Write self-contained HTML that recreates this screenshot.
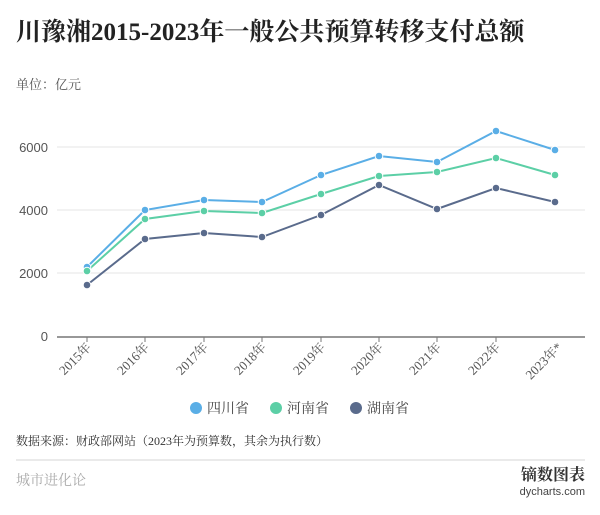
<!DOCTYPE html>
<html><head><meta charset="utf-8"><style>
body{margin:0;width:600px;height:510px;background:#fff;overflow:hidden;font-family:"Liberation Serif","Noto Serif CJK SC",serif;}
</style></head><body>
<svg width="600" height="510" xmlns="http://www.w3.org/2000/svg">
<text x="16" y="40" font-size="25" font-weight="bold" fill="#222" font-family="Liberation Serif, Noto Serif CJK SC, serif">川豫湘2015-2023年一般公共预算转移支付总额</text>
<text x="16" y="89" font-size="13" fill="#555" font-family="Liberation Serif, Noto Serif CJK SC, serif">单位：亿元</text>
<g stroke="#e6e6e6" stroke-width="1">
<line x1="57" y1="273" x2="585" y2="273"/><line x1="57" y1="210" x2="585" y2="210"/><line x1="57" y1="147" x2="585" y2="147"/>
</g>
<line x1="57" y1="337" x2="585" y2="337" stroke="#777" stroke-width="1.5"/>
<g font-size="13" fill="#555" text-anchor="end" font-family="Liberation Sans, sans-serif">
<text x="48" y="341">0</text><text x="48" y="278">2000</text><text x="48" y="215">4000</text><text x="48" y="152">6000</text>
</g>
<g stroke="#777" stroke-width="1">
<line x1="87" y1="337" x2="87" y2="342"/><line x1="145" y1="337" x2="145" y2="342"/><line x1="204" y1="337" x2="204" y2="342"/><line x1="262" y1="337" x2="262" y2="342"/><line x1="321" y1="337" x2="321" y2="342"/><line x1="379" y1="337" x2="379" y2="342"/><line x1="437" y1="337" x2="437" y2="342"/><line x1="496" y1="337" x2="496" y2="342"/>
</g>
<g font-size="13" fill="#555" text-anchor="end" font-family="Liberation Serif, Noto Serif CJK SC, serif">
<text transform="translate(92,348) rotate(-45)">2015年</text>
<text transform="translate(150,348) rotate(-45)">2016年</text>
<text transform="translate(209,348) rotate(-45)">2017年</text>
<text transform="translate(267,348) rotate(-45)">2018年</text>
<text transform="translate(326,348) rotate(-45)">2019年</text>
<text transform="translate(384,348) rotate(-45)">2020年</text>
<text transform="translate(442,348) rotate(-45)">2021年</text>
<text transform="translate(501,348) rotate(-45)">2022年</text>
<text transform="translate(563,348) rotate(-45)">2023年*</text>
</g>
<g fill="none" stroke-width="2">
<polyline stroke="#5aaee6" points="87,267 145,210 204,200 262,202 321,175 379,156 437,162 496,131 555,150"/>
<polyline stroke="#5ccfa6" points="87,271 145,219 204,211 262,213 321,194 379,176 437,172 496,158 555,175"/>
<polyline stroke="#5a6b8c" points="87,285 145,239 204,233 262,237 321,215 379,185 437,209 496,188 555,202"/>
</g>
<g stroke="#fff" stroke-width="1">
<g fill="#5aaee6"><circle cx="87" cy="267" r="3.8"/><circle cx="145" cy="210" r="3.8"/><circle cx="204" cy="200" r="3.8"/><circle cx="262" cy="202" r="3.8"/><circle cx="321" cy="175" r="3.8"/><circle cx="379" cy="156" r="3.8"/><circle cx="437" cy="162" r="3.8"/><circle cx="496" cy="131" r="3.8"/><circle cx="555" cy="150" r="3.8"/></g>
<g fill="#5ccfa6"><circle cx="87" cy="271" r="3.8"/><circle cx="145" cy="219" r="3.8"/><circle cx="204" cy="211" r="3.8"/><circle cx="262" cy="213" r="3.8"/><circle cx="321" cy="194" r="3.8"/><circle cx="379" cy="176" r="3.8"/><circle cx="437" cy="172" r="3.8"/><circle cx="496" cy="158" r="3.8"/><circle cx="555" cy="175" r="3.8"/></g>
<g fill="#5a6b8c"><circle cx="87" cy="285" r="3.8"/><circle cx="145" cy="239" r="3.8"/><circle cx="204" cy="233" r="3.8"/><circle cx="262" cy="237" r="3.8"/><circle cx="321" cy="215" r="3.8"/><circle cx="379" cy="185" r="3.8"/><circle cx="437" cy="209" r="3.8"/><circle cx="496" cy="188" r="3.8"/><circle cx="555" cy="202" r="3.8"/></g>
</g>
<g font-size="14" fill="#444" font-family="Liberation Serif, Noto Serif CJK SC, serif">
<circle cx="196" cy="408" r="6" fill="#5aaee6"/><text x="207" y="413">四川省</text>
<circle cx="276" cy="408" r="6" fill="#5ccfa6"/><text x="287" y="413">河南省</text>
<circle cx="356" cy="408" r="6" fill="#5a6b8c"/><text x="367" y="413">湖南省</text>
</g>
<text x="16" y="445" font-size="12" fill="#333" font-family="Liberation Serif, Noto Serif CJK SC, serif">数据来源：财政部网站（2023年为预算数，其余为执行数）</text>
<line x1="16" y1="460" x2="585" y2="460" stroke="#e3e3e3" stroke-width="1.5"/>
<text x="16" y="485" font-size="14" fill="#aaa" font-family="Liberation Serif, Noto Serif CJK SC, serif">城市进化论</text>
<text x="585" y="480" font-size="16" font-weight="bold" fill="#333" text-anchor="end" font-family="Liberation Serif, Noto Serif CJK SC, serif">镝数图表</text>
<text x="585" y="495" font-size="11" fill="#444" text-anchor="end" font-family="Liberation Sans, sans-serif">dycharts.com</text>
</svg>
</body></html>
